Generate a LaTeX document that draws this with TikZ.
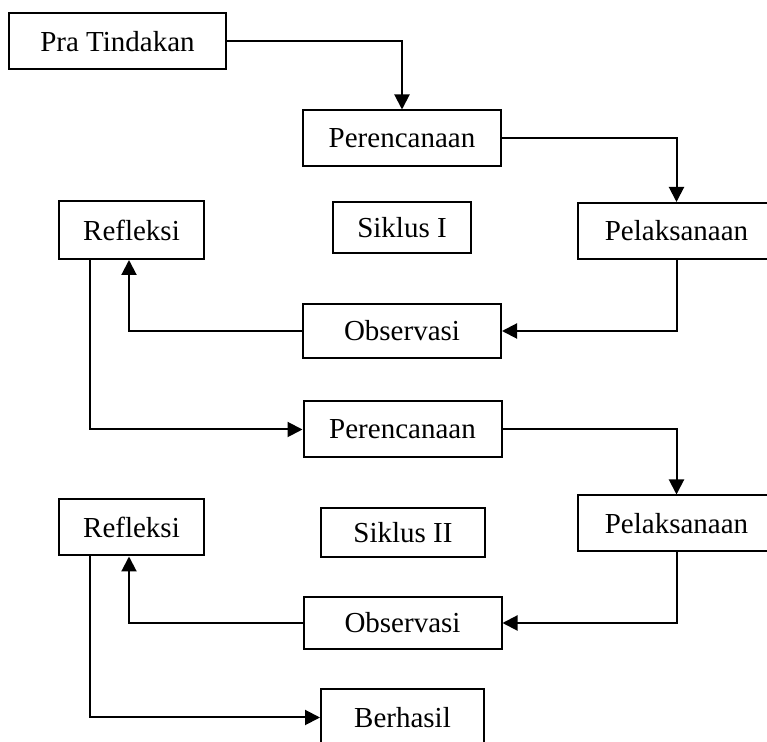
\documentclass[tikz,border=0pt]{standalone}
\usepackage{fontspec}
\setmainfont{Liberation Serif}
\usetikzlibrary{arrows.meta,positioning,calc}

\begin{document}
\begin{tikzpicture}[x=0.5pt, y=-0.5pt,
  stagebox/.style={draw, line width=1pt, inner sep=0pt,
    minimum width=99pt, minimum height=28pt, font=\fontsize{14.5}{17}\selectfont},
  flow/.style={-{Triangle[length=7.5pt,width=7.5pt]}, line width=1pt}]

\useasboundingbox (0,0) rectangle (767,742);

\node[stagebox, minimum width=108.5pt] (pra) at (117.5,41.5) {Pra Tindakan};

% Siklus I
\node[stagebox] (ren1) at (402,138.5) {Perencanaan};
\node[stagebox, minimum width=69pt, minimum height=25.5pt] (sik1) at (402,227.5) {Siklus I};
\node[stagebox, minimum width=98.5pt] (lak1) at (676.5,231) {Pelaksanaan};
\node[stagebox, minimum width=72.5pt, minimum height=29pt] (ref1) at (131.5,230) {Refleksi};
\node[stagebox, minimum height=27pt] (obs1) at (402,331) {Observasi};

% Siklus II
\node[stagebox] (ren2) at (402.5,429.5) {Perencanaan};
\node[stagebox, minimum width=82pt, minimum height=24.5pt] (sik2) at (403,532.5) {Siklus II};
\node[stagebox, minimum width=98.5pt] (lak2) at (676.5,523.5) {Pelaksanaan};
\node[stagebox, minimum width=72.5pt] (ref2) at (131.5,527.5) {Refleksi};
\node[stagebox, minimum height=26pt] (obs2) at (402.5,623) {Observasi};

\node[stagebox, minimum width=81.5pt] (ber) at (402.5,717.5) {Berhasil};

% Connecting arrows
\draw[flow] (pra.east) -| (ren1.north);
\draw[flow] (ren1.east) -| (lak1.north);
\draw[flow] (lak1.south) |- (obs1.east);
\draw[flow] (obs1.west) -| ($(ref1.south)+(-2.5,0)$);
\draw[flow] ($(ref1.south)+(-41.5,0)$) |- (ren2.west);
\draw[flow] (ren2.east) -| (lak2.north);
\draw[flow] (lak2.south) |- (obs2.east);
\draw[flow] (obs2.west) -| ($(ref2.south)+(-2.5,0)$);
\draw[flow] ($(ref2.south)+(-41.5,0)$) |- (ber.west);

\end{tikzpicture}
\end{document}
